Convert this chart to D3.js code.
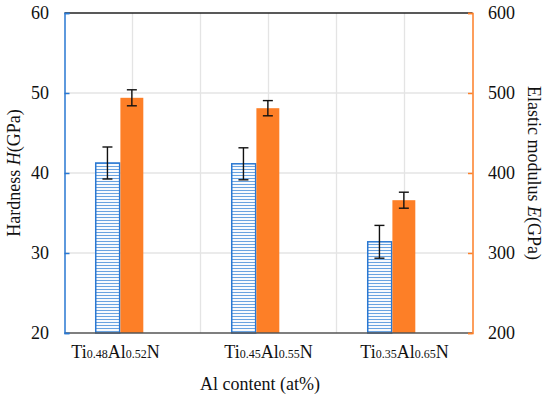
<!DOCTYPE html>
<html><head><meta charset="utf-8">
<script src="https://cdn.jsdelivr.net/npm/d3@7"></script>
<style>body{margin:0;background:#fff}svg{display:block}</style>
</head><body><svg id="c" width="550" height="398" style="font-family:'Liberation Serif',serif"></svg>
<script>
const categories = [
  {base:"Ti", s1:"0.48", mid:"Al", s2:"0.52", end:"N"},
  {base:"Ti", s1:"0.45", mid:"Al", s2:"0.55", end:"N"},
  {base:"Ti", s1:"0.35", mid:"Al", s2:"0.65", end:"N"}
];
const hardness = [41.25, 41.15, 31.4];
const hardnessErr = [2.0, 2.0, 2.05];
const modulus = [494, 481, 366];
const modulusErr = [10, 9.5, 10];
const leftTicks = [20, 30, 40, 50, 60];
const rightTicks = [200, 300, 400, 500, 600];
const labelShift = [-17, 0, 0];

const FONT = "'Liberation Serif', 'Times New Roman', serif";
const svg = d3.select("#c");
const L = 64.5, R = 472.5, T = 13, B = 333;
const blue = "#2a78d2", orange = "#fd7f27";

const x = d3.scaleBand().domain(d3.range(categories.length)).range([L, R]).padding(0);
const bw = x.bandwidth();
const xs = d3.scaleBand().domain(["H","E"]).range([bw*0.226, bw*0.585]).padding(0);
const yL = d3.scaleLinear().domain([20, 60]).range([B, T]);
const yR = d3.scaleLinear().domain([200, 600]).range([B, T]);

const defs = svg.append("defs");
const pat = defs.append("pattern").attr("id","hstripe").attr("patternUnits","userSpaceOnUse")
  .attr("width", 6).attr("height", 3);
pat.append("rect").attr("width",6).attr("height",3).attr("fill","#fff");
pat.append("line").attr("x1",0).attr("x2",6).attr("y1",1.5).attr("y2",1.5)
  .attr("stroke","#6aa3e0").attr("stroke-width",1.1);

// gridlines
const vgrid = [];
categories.forEach((c,i)=>{ vgrid.push(x(i)+bw/2); if(i>0) vgrid.push(x(i)); });
svg.append("g").selectAll("line").data(vgrid).join("line")
  .attr("x1",d=>d).attr("x2",d=>d).attr("y1",T).attr("y2",B)
  .attr("stroke","#e4e4e4").attr("stroke-width",1.3);
svg.append("g").selectAll("line").data(leftTicks.slice(1,-1)).join("line")
  .attr("x1",L).attr("x2",R).attr("y1",d=>yL(d)).attr("y2",d=>yL(d))
  .attr("stroke","#e4e4e4").attr("stroke-width",1.5);

// bars
svg.append("g").selectAll("rect").data(hardness).join("rect")
  .attr("x",(d,i)=>x(i)+xs("H")+0.5).attr("width",xs.bandwidth()-0.5)
  .attr("y",d=>yL(d)).attr("height",d=>B-yL(d))
  .attr("fill","url(#hstripe)").attr("stroke",blue).attr("stroke-width",1.5);
svg.append("g").selectAll("rect").data(modulus).join("rect")
  .attr("x",(d,i)=>x(i)+xs("E")+0.75).attr("width",xs.bandwidth()-1.5)
  .attr("y",d=>yR(d)).attr("height",d=>B-yR(d))
  .attr("fill",orange);

function errBars(vals, errs, scale, key){
  const g = svg.append("g").attr("stroke","#111").attr("stroke-width",1.4);
  vals.forEach((v,i)=>{
    const cx = x(i)+xs(key)+xs.bandwidth()/2;
    const y1 = scale(v+errs[i]), y2 = scale(v-errs[i]);
    g.append("line").attr("x1",cx).attr("x2",cx).attr("y1",y1).attr("y2",y2);
    g.append("line").attr("x1",cx-5).attr("x2",cx+5).attr("y1",y1).attr("y2",y1);
    g.append("line").attr("x1",cx-5).attr("x2",cx+5).attr("y1",y2).attr("y2",y2);
  });
}
errBars(hardness, hardnessErr, yL, "H");
errBars(modulus, modulusErr, yR, "E");

svg.append("line").attr("x1",L).attr("x2",R).attr("y1",T).attr("y2",T).attr("stroke","#222").attr("stroke-width",1.5);
svg.append("line").attr("x1",L).attr("x2",R).attr("y1",B).attr("y2",B).attr("stroke","#555").attr("stroke-width",1.5);

const la = svg.append("g").attr("transform",`translate(${L},0)`)
  .call(d3.axisLeft(yL).tickValues(leftTicks).tickSize(-5).tickPadding(15.5))
  .attr("font-family", FONT).attr("font-size", 18);
la.select(".domain").attr("stroke",blue).attr("stroke-width",1.5);
la.selectAll(".tick line").attr("stroke",blue).attr("stroke-width",1.5);
la.selectAll(".tick text").attr("fill","#111");

const ra = svg.append("g").attr("transform",`translate(${R},0)`)
  .call(d3.axisRight(yR).tickValues(rightTicks).tickSize(-4.5).tickPadding(15.5))
  .attr("font-family", FONT).attr("font-size", 18);
ra.select(".domain").attr("stroke",orange).attr("stroke-width",1.5);
ra.selectAll(".tick line").attr("stroke",orange).attr("stroke-width",1.5);
ra.selectAll(".tick text").attr("fill","#111");

categories.forEach((c,i)=>{
  const t = svg.append("text").attr("x", x(i)+bw/2+labelShift[i]).attr("y",358)
    .attr("text-anchor","middle").attr("font-family",FONT).attr("font-size",18).attr("fill","#111");
  t.append("tspan").text(c.base);
  t.append("tspan").text(c.s1).attr("font-size",12);
  t.append("tspan").text(c.mid);
  t.append("tspan").text(c.s2).attr("font-size",12);
  t.append("tspan").text(c.end);
});

svg.append("text").attr("x",260).attr("y",390).attr("text-anchor","middle")
  .attr("font-family",FONT).attr("font-size",18).attr("fill","#111").text("Al content (at%)");
const lt = svg.append("text").attr("transform",`translate(20,${(T+B)/2}) rotate(-90)`)
  .attr("text-anchor","middle").attr("font-family",FONT).attr("font-size",18).attr("fill","#111");
lt.append("tspan").text("Hardness ");
lt.append("tspan").text("H").attr("font-style","italic");
lt.append("tspan").text("(GPa)");
const rt = svg.append("text").attr("transform",`translate(528,${(T+B)/2}) rotate(90)`)
  .attr("text-anchor","middle").attr("font-family",FONT).attr("font-size",18).attr("fill","#111");
rt.append("tspan").text("Elastic modulus ");
rt.append("tspan").text("E").attr("font-style","italic");
rt.append("tspan").text("(GPa)");
</script></body></html>
